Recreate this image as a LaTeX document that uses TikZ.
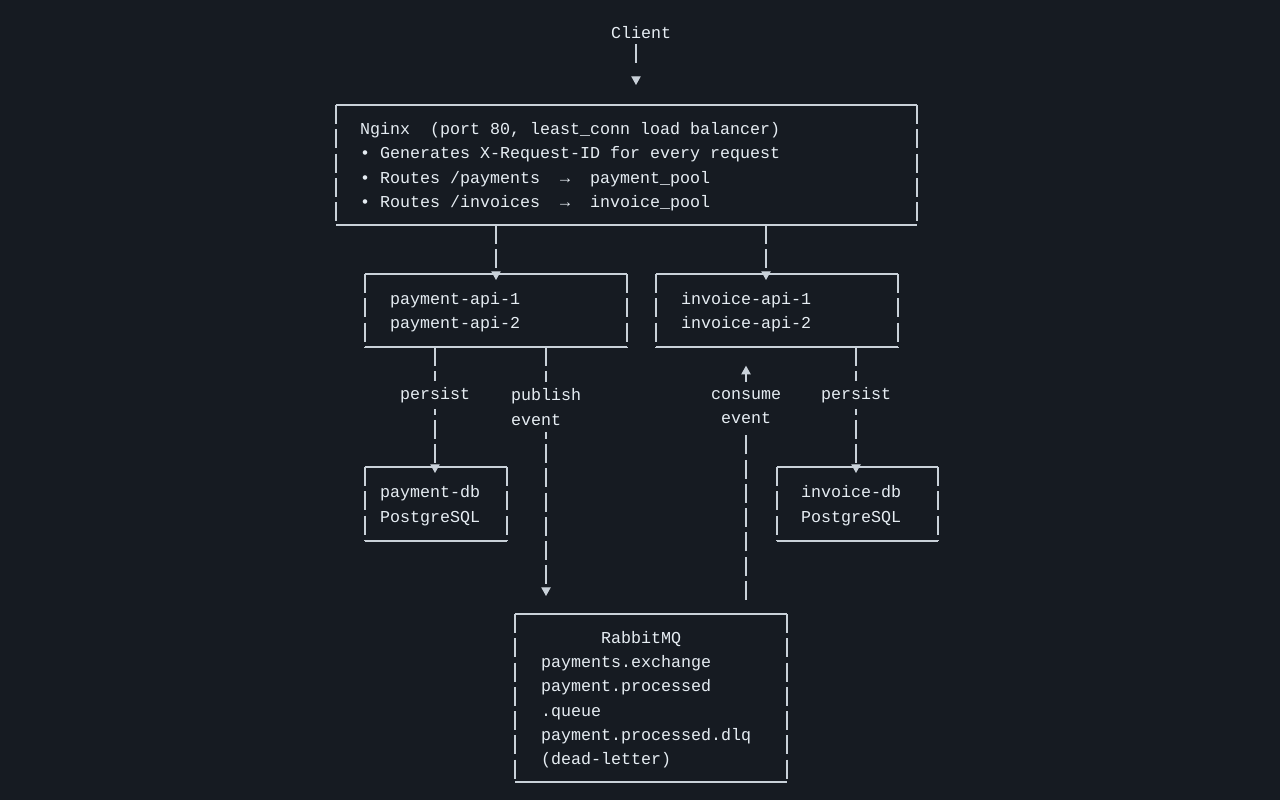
\documentclass[tikz,border=0pt]{standalone}
\usepackage{fontspec}
\setmonofont{Liberation Mono}
\usetikzlibrary{arrows.meta}
\definecolor{bg}{HTML}{161B22}
\definecolor{fg}{HTML}{E6EDF3}
\definecolor{ln}{HTML}{C9D1D9}
\newcommand\ksp{\hspace*{7.5pt}}
\newcommand\kstrut{\rule[-3pt]{0pt}{15pt}}
\begin{document}
\begin{tikzpicture}[x=0.75pt,y=-0.75pt,
  every node/.style={font=\ttfamily\fontsize{12.5pt}{18.2pt}\selectfont, text=fg},
  box/.style={inner ysep=0pt, outer sep=0pt, align=left, anchor=center,
    execute at begin node={\kstrut}, execute at end node={\kstrut}},
  vline/.style={draw=ln, line width=0.9pt, dash pattern=on 14.3pt off 3.9pt},
  hline/.style={draw=ln, line width=0.9pt},
  conn/.style={vline, -{Triangle[width=7pt,length=6.5pt]}},
  lbl/.style={fill=bg, inner xsep=2pt, inner ysep=5pt}
]
\fill[bg] (0,0) rectangle (1280,800);
\useasboundingbox (0,0) rectangle (1280,800);

% column coordinates
\coordinate (xclient) at (636,0);
\coordinate (xpa) at (496,0);
\coordinate (xia) at (766,0);
\coordinate (xpp) at (435,0);
\coordinate (xpub) at (546,0);
\coordinate (xcon) at (746,0);
\coordinate (xip) at (856,0);

\node (client) at (641,33) {Client};

\node[box, minimum width=435.75pt, minimum height=90pt, inner xsep=18pt, text width=399.75pt] (nginx) at (626.5,165)
 {Nginx\ksp\ksp(port\ksp80,\ksp least\_conn\ksp load\ksp balancer)\\•\ksp Generates\ksp X-Request-ID\ksp for\ksp every\ksp request\\•\ksp Routes\ksp/payments\ksp\ksp→\ksp\ksp payment\_pool\\•\ksp Routes\ksp/invoices\ksp\ksp→\ksp\ksp invoice\_pool};

\node[box, minimum width=196.5pt, minimum height=54.75pt, inner xsep=18.75pt, text width=159pt] (payapi) at (496,310.5)
 {payment-api-1\\payment-api-2};
\node[box, minimum width=181.5pt, minimum height=54.75pt, inner xsep=18.75pt, text width=144pt] (invapi) at (777,310.5)
 {invoice-api-1\\invoice-api-2};

\node[box, minimum width=106.5pt, minimum height=55.5pt, inner xsep=11.25pt, text width=84pt] (paydb) at (436,504)
 {payment-db\\PostgreSQL};
\node[box, minimum width=120.75pt, minimum height=55.5pt, inner xsep=18pt, text width=84.75pt] (invdb) at (857.5,504)
 {invoice-db\\PostgreSQL};

\node[box, minimum width=204pt, minimum height=126pt, inner xsep=19.5pt, text width=165pt] (rabbit) at (651,698)
 {\hphantom{000000}RabbitMQ\\payments.exchange\\payment.processed\\.queue\\payment.processed.dlq\\(dead-letter)};

\foreach \n in {nginx,payapi,invapi,paydb,invdb,rabbit}{
  \draw[hline] (\n.north west) -- (\n.north east) (\n.south west) -- (\n.south east);
  \draw[vline] (\n.north west) -- (\n.south west) (\n.north east) -- (\n.south east);
}

% connectors
\draw[conn, dash pattern=on 14pt off 20pt, shorten >=15pt] (client.south -| xclient) -- (nginx.north -| xclient);
\draw[conn, shorten >=-4.5pt] (nginx.south -| xpa) -- (payapi.north -| xpa);
\draw[conn, shorten >=-4.5pt] (nginx.south -| xia) -- (invapi.north -| xia);
\draw[conn, shorten >=-4.5pt] (payapi.south -| xpp) -- node[lbl, pos=0.4] {persist} (paydb.north -| xpp);
\draw[conn, shorten >=13.5pt] (payapi.south -| xpub) -- node[lbl, pos=0.225, align=left] {publish\\event} (rabbit.north -| xpub);
\draw[conn, shorten <=10.5pt, shorten >=14pt] (rabbit.north -| xcon) -- node[lbl, pos=0.775, align=center] {consume\\event} (invapi.south -| xcon);
\draw[conn, shorten >=-4.5pt] (invapi.south -| xip) -- node[lbl, pos=0.4] {persist} (invdb.north -| xip);
\end{tikzpicture}
\end{document}
